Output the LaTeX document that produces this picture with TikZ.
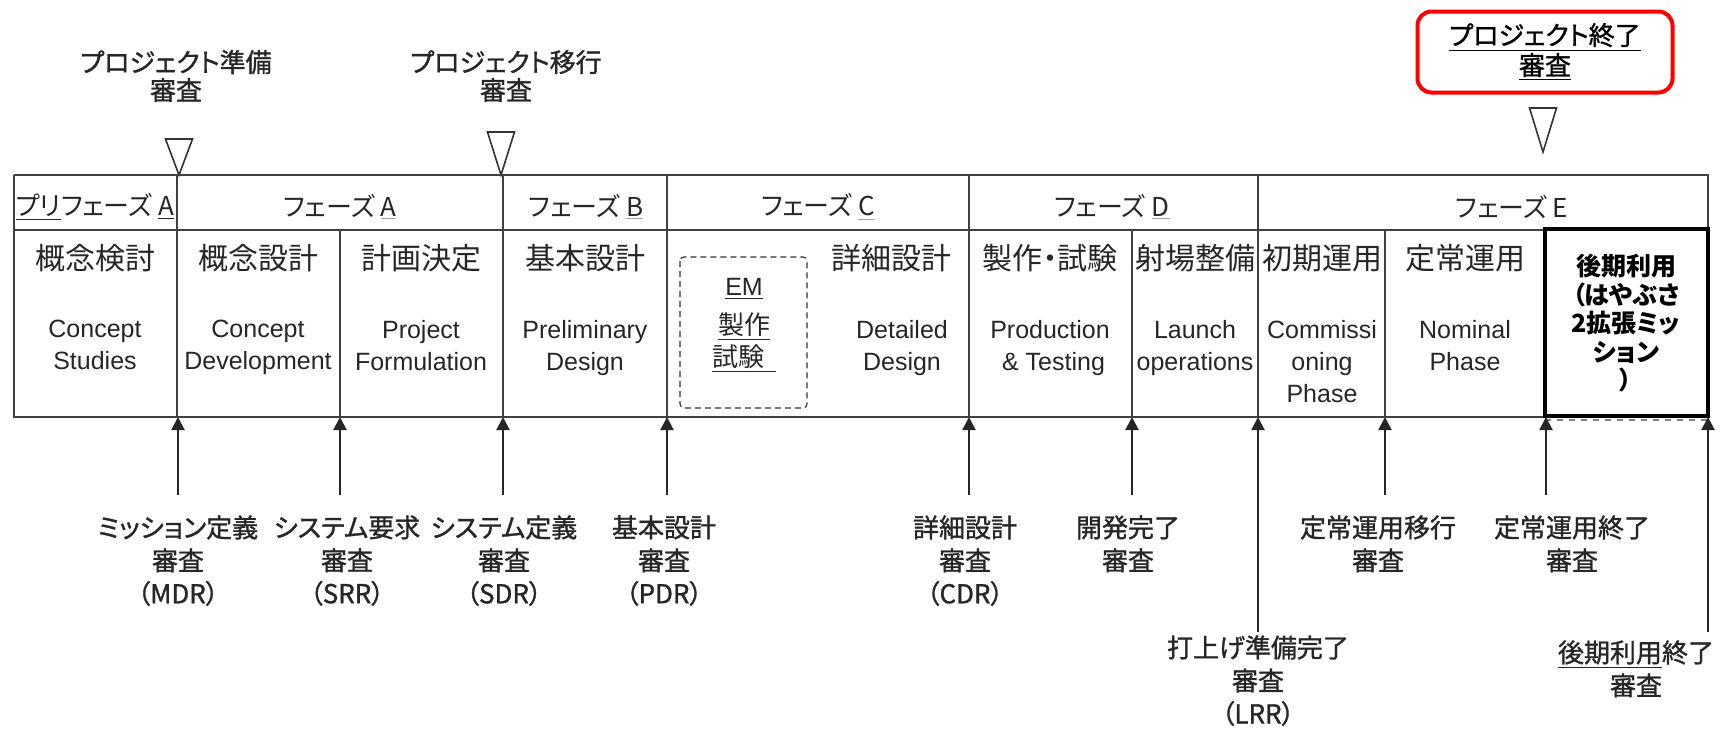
\documentclass[tikz,border=0pt]{standalone}
\usepackage{fontspec}
\setmainfont{Liberation Sans}
\newfontfamily\jp[RawFeature=+palt]{Noto Sans CJK JP}
\newfontfamily\jpb[RawFeature=+palt,FakeBold=1.2]{Noto Sans CJK JP}
\usetikzlibrary{arrows.meta,positioning}
\newcommand{\gul}[1]{{\color{black!35}\underline{\color{black!85}#1}}}
\newcommand{\newGate}[4]{\draw[gate] (#2-13.5,#3) -- (#2+13.5,#3) -- (#2,#4) -- cycle; \coordinate (#1) at (#2,#4);}
\newcommand{\newStage}[4]{\node[jtitle] (#1) at (#2,258) {#3}; \node[etitle,anchor=north] (#1e) at (#2,320) {#4};}
\newcommand{\newReview}[6]{\coordinate (#1tail) at (#2,#3); \coordinate (#1tip) at (#2,417); \draw[milestone] (#1tail) -- (#1tip); \node[review,below=#6 of #1tail,xshift=#4] (#1) {#5};}

\begin{document}
\begin{tikzpicture}[
    % one unit = one pixel, y runs down
    x=0.5pt,y=-0.5pt,
    % table rules and cell text
    tabline/.style={draw=black!75,line width=1pt},
    phase/.style={font=\jp\fontsize{13}{15}\selectfont,text=black!85,inner sep=0pt},
    jtitle/.style={font=\jp\fontsize{15}{18}\selectfont,text=black!85,inner sep=0pt},
    etitle/.style={font=\fontsize{12.5}{16}\selectfont,text=black!85,align=center,inner sep=0pt},
    emline/.style={draw=black!80,line width=0.6pt,dash pattern=on 3pt off 2pt,rounded corners=2pt},
    lateframe/.style={draw=black,line width=2pt},
    lateuse/.style={font=\jp\bfseries\fontsize{12.5}{14.25}\selectfont,align=center,inner sep=0pt},
    % reviews above and below the table
    gate/.style={draw=black!80,line width=0.8pt},
    gatelabel/.style={font=\jpb\fontsize{13}{14}\selectfont,text=black!85,align=center,inner sep=0pt},
    endbox/.style={draw=red,line width=2pt,rounded corners=7pt,minimum width=127.5pt,minimum height=40.5pt,
      font=\jpb\fontsize{13}{15}\selectfont,align=center},
    review/.style={font=\jpb\fontsize{13}{16.5}\selectfont,text=black!85,align=center,inner sep=0pt},
    milestone/.style={-{Triangle[length=6.5pt,width=6.5pt]},line width=1pt,draw=black!85}
    ]
    \useasboundingbox (0,0) rectangle (1720,729);

    % project gates
    \newGate{g1}{179}{139}{175}
    \newGate{g2}{501}{132}{175}
    \newGate{g3}{1543}{108}{152}
    \node[gatelabel] (prep) at (176,76) {プロジェクト準備\\審査};
    \node[gatelabel] (trans) at (506,76) {プロジェクト移行\\審査};
    \node[endbox] (close) at (1545,52) {\underline{プロジェクト終了}\\\underline{審査}};

    % table frame
    \draw[tabline] (14,175) -- (1708,175) -- (1708,230);
    \draw[tabline] (14,230) -- (1708,230);
    \draw[tabline] (14,175) -- (14,417) -- (1545,417);
    \draw[tabline] (177,175) -- (177,417);
    \draw[tabline] (503,175) -- (503,417);
    \draw[tabline] (667,175) -- (667,417);
    \draw[tabline] (969,175) -- (969,417);
    \draw[tabline] (1258,175) -- (1258,417);
    \draw[tabline] (340,230) -- (340,417);
    \draw[tabline] (1132,230) -- (1132,417);
    \draw[tabline] (1385,230) -- (1385,417);
    \draw[tabline,dashed,draw=black!50] (1545,420) -- (1708,420);
    \draw[lateframe] (1545,229) rectangle (1708,416);

    % phases
    \node[phase] (ppa) at (95,207) {\underline{プリ}フェーズ \underline{A}};
    \node[phase] (pa) at (340,207) {フェーズ \gul{A}};
    \node[phase] (pb) at (586,207) {フェーズ \gul{B}};
    \node[phase] (pc) at (818,207) {フェーズ \gul{C}};
    \node[phase] (pd) at (1112,207) {フェーズ \gul{D}};
    \node[phase] (pe) at (1512,207) {フェーズ E};

    % stages
    \newStage{cs}{95}{概念検討}{Concept\\Studies}
    \newStage{cd}{258}{概念設計}{Concept\\Development}
    \newStage{pf}{421}{計画決定}{Project\\Formulation}
    \newStage{prd}{585}{基本設計}{Preliminary\\Design}
    \node[jtitle] (dd) at (891,258) {詳細設計};
    \node[etitle,anchor=north] (dde) at (902,320) {Detailed\\Design};
    \newStage{pt}{1050}{製作・試験}{Production\\\ \& Testing}
    \newStage{lo}{1195}{射場整備}{Launch\\operations}
    \newStage{cp}{1322}{初期運用}{Commissi\\oning\\Phase}
    \newStage{np}{1465}{定常運用}{Nominal\\Phase}
    \draw[emline] (680,257) rectangle (807,408);
    \node[etitle,anchor=north] (em) at (744,278) {\underline{EM}\\[3.5pt]{\jp\fontsize{13}{15}\selectfont\underline{製作}}\\{\jp\fontsize{13}{15}\selectfont\underline{試験\hspace{6pt}}\hspace{-6pt}}};
    \node[lateuse,anchor=north] (late) at (1626,254) {後期利用\\（はやぶさ\\2拡張ミッ\\ション\\）};

    % reviews
    \newReview{mdr}{178}{495}{0pt}{ミッション定義\\審査\\（MDR）}{10pt}
    \newReview{srr}{340}{495}{3.5pt}{システム要求\\審査\\（SRR）}{10pt}
    \newReview{sdr}{503}{495}{0.5pt}{システム定義\\審査\\（SDR）}{10pt}
    \newReview{pdr}{667}{495}{-1.5pt}{基本設計\\審査\\（PDR）}{10pt}
    \newReview{cdr}{969}{495}{-2pt}{詳細設計\\審査\\（CDR）}{10pt}
    \newReview{dcr}{1132}{495}{-2pt}{開発完了\\審査}{10pt}
    \newReview{lrr}{1258}{632}{0pt}{打上げ準備完了\\審査\\（LRR）}{1.5pt}
    \newReview{nor}{1385}{495}{-3.5pt}{定常運用移行\\審査}{10pt}
    \newReview{noe}{1546}{495}{13pt}{定常運用終了\\審査}{10pt}
    \newReview{lue}{1708}{632}{-36pt}{\underline{後期利用}終了\\審査}{4pt}
\end{tikzpicture}
\end{document}
